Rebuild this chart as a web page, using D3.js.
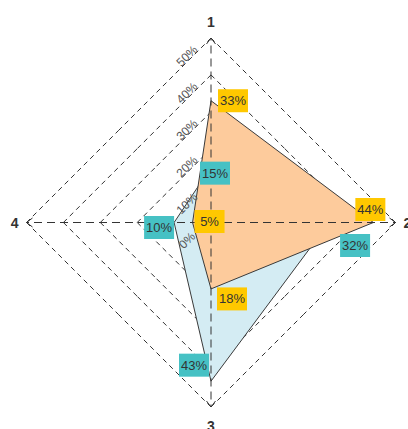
<!DOCTYPE html>
<html>
<head>
<meta charset="utf-8">
<script src="https://cdn.jsdelivr.net/npm/d3@7"></script>
<style>
  body { margin: 0; background: #fff; }
  svg { display: block; font-family: Arial, "Liberation Sans", sans-serif; }
</style>
</head>
<body>
<div id="chart"></div>
<script>
const axes = ['1', '2', '3', '4'];
const ticks = [0, 10, 20, 30, 40, 50];
const orangeValues = [33, 44, 18, 5];
const blueValues = [15, 32, 43, 10];

// label box offsets from the point (px)
const orangeOffsets = [[22, 0], [-3, -13], [21, 10], [17, -1]];
const blueOffsets = [[4, 6], [26, 23], [-17, -16], [-15, 5]];

const width = 408;
const height = 429;
const cx = 211;
const cy = 222.5;

const svg = d3.select('#chart')
  .append('svg')
  .attr('width', width)
  .attr('height', height);

// open arrowhead for axis ends
svg.append('defs').append('marker')
  .attr('id', 'axis-arrow')
  .attr('viewBox', '-8 -6 10 12')
  .attr('refX', 0)
  .attr('refY', 0)
  .attr('orient', 'auto')
  .attr('markerUnits', 'userSpaceOnUse')
  .attr('markerWidth', 10)
  .attr('markerHeight', 12)
  .append('path')
  .attr('d', 'M -6,-4.5 L 0,0 L -6,4.5')
  .attr('fill', 'none')
  .attr('stroke', '#333')
  .attr('stroke-width', 1);

const r = d3.scaleLinear().domain([0, 50]).range([0, 184.5]);
const angle = d3.scalePoint().domain(axes).range([-Math.PI / 2, Math.PI]);

function pt(axis, v) {
  const a = angle(axis);
  return [cx + Math.cos(a) * r(v), cy + Math.sin(a) * r(v)];
}

// grid rings, drawn as half edges from each vertex so corners show
const grid = svg.append('g')
  .attr('stroke', '#333')
  .attr('stroke-width', 1)
  .attr('fill', 'none')
  .attr('stroke-dasharray', '5,4');

ticks.filter(t => t > 0).forEach(t => {
  axes.forEach((ax, i) => {
    const p = pt(ax, t);
    [axes[(i + 1) % 4], axes[(i + 3) % 4]].forEach(nb => {
      const q = pt(nb, t);
      grid.append('line')
        .attr('x1', p[0]).attr('y1', p[1])
        .attr('x2', (p[0] + q[0]) / 2).attr('y2', (p[1] + q[1]) / 2);
    });
  });
});

// series polygons
const line = d3.line();
function drawSeries(values, fill) {
  svg.append('path')
    .attr('d', line(values.map((v, i) => pt(axes[i], v))) + 'Z')
    .attr('fill', fill)
    .attr('stroke', '#3a3a3a')
    .attr('stroke-width', 1);
}
drawSeries(blueValues, '#d4ecf3');
drawSeries(orangeValues, '#fdcb9c');

// axis lines
svg.append('g')
  .selectAll('line')
  .data(axes)
  .enter().append('line')
  .attr('x1', cx).attr('y1', cy)
  .attr('x2', d => pt(d, 50)[0])
  .attr('y2', d => pt(d, 50)[1])
  .attr('stroke', '#333')
  .attr('stroke-width', 1)
  .attr('stroke-dasharray', '8,5')
  .attr('marker-end', 'url(#axis-arrow)');

// tick labels
svg.append('g')
  .selectAll('text')
  .data(ticks)
  .enter().append('text')
  .attr('transform', d => `translate(${cx - 24},${cy - r(d) + 18}) rotate(-45)`)
  .attr('text-anchor', 'middle')
  .attr('dominant-baseline', 'central')
  .attr('font-size', 12)
  .attr('fill', '#555')
  .text(d => d + '%');

// axis names
const nameAnchor = ['middle', 'start', 'middle', 'end'];
const nameShift = [[0, -11], [8, 5], [0, 24], [-8, 5]];
svg.append('g')
  .selectAll('text')
  .data(axes)
  .enter().append('text')
  .attr('x', (d, i) => pt(d, 50)[0] + nameShift[i][0])
  .attr('y', (d, i) => pt(d, 50)[1] + nameShift[i][1])
  .attr('text-anchor', (d, i) => nameAnchor[i])
  .attr('font-size', 14)
  .attr('font-weight', 'bold')
  .attr('fill', '#333')
  .text(d => d);

// value labels
function drawLabels(values, offsets, fill) {
  const g = svg.append('g');
  values.forEach((v, i) => {
    const p = pt(axes[i], v);
    const x = p[0] + offsets[i][0];
    const y = p[1] + offsets[i][1];
    g.append('rect')
      .attr('x', x - 15).attr('y', y - 11.5)
      .attr('width', 30).attr('height', 23)
      .attr('fill', fill);
    g.append('text')
      .attr('x', x).attr('y', y)
      .attr('text-anchor', 'middle')
      .attr('dominant-baseline', 'central')
      .attr('font-size', 13)
      .attr('fill', '#333')
      .text(v + '%');
  });
}
drawLabels(blueValues, blueOffsets, '#46c1c4');
drawLabels(orangeValues, orangeOffsets, '#ffc800');
</script>
</body>
</html>
